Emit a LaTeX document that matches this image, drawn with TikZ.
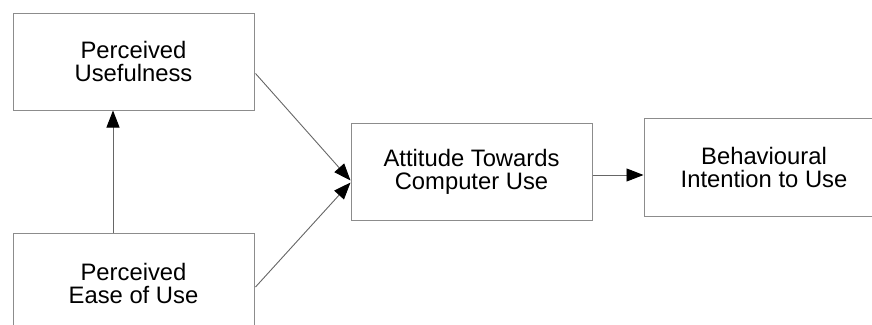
\documentclass[tikz,border=0pt]{standalone}
\usepackage{fontspec}
\setmainfont{Liberation Sans}
\usetikzlibrary{arrows.meta,calc}
\begin{document}
\begin{tikzpicture}[x=1pt,y=-1pt,
  boxnode/.style={draw=gray!90, line width=1pt, rectangle, inner sep=0pt,
    align=center, font=\fontsize{23.8}{23}\selectfont,
    minimum width=241pt, minimum height=97pt},
  conn/.style={draw=gray!80!black, line width=0.9pt,
    -{Triangle[length=17pt,width=13pt,color=black,fill=black]}}]
\useasboundingbox (0,0) rectangle (872,324);
\clip (0,0) rectangle (872,324);
\node[boxnode] (PU) at (133.5,61.5) {Perceived\\Usefulness};
\node[boxnode, minimum height=100pt] (PEOU) at (133.5,283) {Perceived\\Ease of Use};
\node[boxnode] (ATCU) at (471.5,171.5) {Attitude Towards\\Computer Use};
\node[boxnode, minimum width=240pt, minimum height=98pt] (BIU) at (764,167) {Behavioural\\Intention to Use};
\coordinate (pu-out) at ($(PU.east)+(1,12)$);
\coordinate (peou-out) at ($(PEOU.east)+(1,4)$);
\coordinate (atcu-in1) at ($(ATCU.west)+(0,9)$);
\coordinate (atcu-in2) at ($(ATCU.west)+(0,11)$);
\coordinate (peou-up) at ($(PEOU.north)+(-20.5,0)$);
\coordinate (atcu-out) at ($(ATCU.east)+(0,3.5)$);
\draw[conn] (pu-out) -- (atcu-in1);
\draw[conn] (peou-out) -- (atcu-in2);
\draw[conn] (peou-up) -- (peou-up |- PU.south);
\draw[conn] (atcu-out) -- (atcu-out -| BIU.west);
\end{tikzpicture}
\end{document}
